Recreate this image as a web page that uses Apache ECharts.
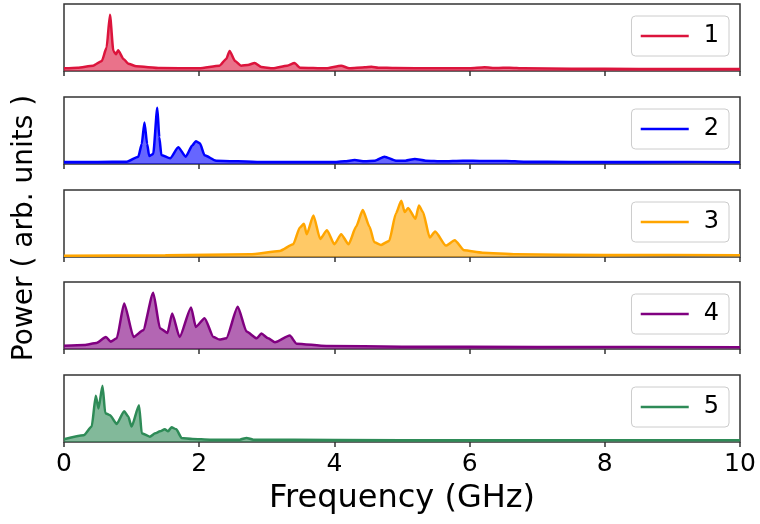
<!DOCTYPE html>
<html><head><meta charset="utf-8">
<script src="https://cdn.jsdelivr.net/npm/echarts@6/dist/echarts.min.js"></script>
<style>html,body{margin:0;padding:0;background:#fff}#c{width:760px;height:524px}</style>
</head><body><div id="c"></div>
<script>
// ---- data (frequency in GHz, power in arb. units; 100 = top of panel) ----
const seriesNames = ['1', '2', '3', '4', '5'];
const tickValues = [0, 2, 4, 6, 8, 10];
const tickLabels = ['0', '2', '4', '6', '8', '10'];

const freq1 = [0, 0.2, 0.43, 0.56, 0.63, 0.68, 0.73, 0.77, 0.80, 0.88, 0.95, 1.07, 1.42, 2.0, 2.3, 2.40, 2.45, 2.53, 2.62, 2.72, 2.82, 2.92, 3.09, 3.3, 3.41, 3.49, 3.88, 4.10, 4.22, 4.45, 4.55, 4.65, 4.9, 5.5, 6.0, 6.22, 6.4, 6.59, 6.8, 7.5, 8.5, 10];
const pow1  = [4, 5, 8, 15, 35, 84, 30, 25, 31, 18, 11, 7, 4.5, 4, 8, 18, 30, 15, 8, 9, 12, 6, 4, 8, 12, 5, 4, 8, 4, 5.5, 6.5, 5, 4.5, 4, 4, 5.5, 4.5, 5, 4, 3.5, 3, 3];

const freq2 = [0, 0.5, 0.93, 1.10, 1.15, 1.19, 1.23, 1.26, 1.32, 1.38, 1.41, 1.44, 1.57, 1.69, 1.80, 1.90, 1.95, 2.01, 2.08, 2.25, 2.9, 3.97, 4.15, 4.30, 4.45, 4.60, 4.74, 4.91, 5.05, 5.19, 5.35, 5.6, 5.9, 6.2, 6.54, 6.8, 7.5, 8.5, 10];
const pow2  = [3, 3, 3.5, 11, 30, 62, 30, 12, 15, 84, 40, 13.5, 8.5, 25, 11, 28, 34, 31, 13, 5, 3, 3, 4, 6, 4, 5, 11, 5, 5, 7.5, 5, 4, 5, 4.5, 4.5, 3.5, 3, 3, 2.5];

const freq3 = [0, 1.5, 2.75, 3.19, 3.39, 3.49, 3.55, 3.59, 3.69, 3.79, 3.89, 4.00, 4.10, 4.21, 4.32, 4.42, 4.52, 4.59, 4.69, 4.81, 4.91, 4.99, 5.04, 5.09, 5.20, 5.25, 5.31, 5.41, 5.49, 5.65, 5.78, 5.92, 6.19, 6.69, 8, 10];
const pow3  = [2, 2.5, 4, 9, 19, 44, 49.5, 34, 62, 27, 40, 19, 34, 19, 45, 70, 45, 22, 18, 24, 65, 84, 67, 73, 57, 77, 67, 29, 38, 17, 25, 10, 6.5, 4, 3, 2.5];

const freq4 = [0, 0.3, 0.48, 0.62, 0.69, 0.78, 0.89, 1.03, 1.17, 1.32, 1.42, 1.53, 1.60, 1.71, 1.88, 1.95, 2.08, 2.21, 2.30, 2.40, 2.57, 2.70, 2.85, 2.92, 3.02, 3.12, 3.34, 3.44, 3.88, 5, 7, 10];
const pow4  = [5, 6, 9, 18, 11, 16, 68, 18, 28, 84, 31, 24, 53, 18, 62, 33, 46, 18, 14, 16, 63, 26, 16, 23, 16, 10, 20, 8, 4.5, 3.5, 3, 2.5];

const freq5 = [0, 0.29, 0.41, 0.47, 0.51, 0.57, 0.61, 0.68, 0.78, 0.89, 0.95, 1.00, 1.11, 1.15, 1.27, 1.35, 1.42, 1.49, 1.54, 1.59, 1.66, 1.74, 1.9, 2.16, 2.6, 2.70, 2.8, 4, 6, 10];
const pow5  = [4, 10, 23, 69, 50, 84, 43, 40, 27, 46, 38, 23, 55, 13, 8, 13, 16, 19, 16, 22, 19, 6, 4.5, 3.5, 3.5, 6, 3.5, 3, 2.5, 2.5];

const freqs = [freq1, freq2, freq3, freq4, freq5];
const pows = [pow1, pow2, pow3, pow4, pow5];

// ---- styling / layout ----
const colors = ['#dc143c', '#0000ff', '#ffa500', '#800080', '#2e8b57'];
const FONT = 'DejaVu Sans';
const gridTops = [4, 97, 190, 282, 375];
const gridH = 67;

const grids = [], xAxes = [], yAxes = [], series = [], legends = [];
for (let i = 0; i < 5; i++) {
  grids.push({ left: 64, right: 20, top: gridTops[i], height: gridH, show: true,
               borderColor: '#333', borderWidth: 1.5, backgroundColor: 'transparent' });
  const last = i === 4;
  xAxes.push({ type: 'value', gridIndex: i, min: 0, max: 10, interval: 2,
    axisLine: { show: false },
    axisTick: { show: true, inside: false, length: 5, lineStyle: { color: '#333', width: 1.5 } },
    splitLine: { show: false },
    axisLabel: { show: last, margin: 10, fontSize: 25, fontFamily: FONT, color: '#000',
      formatter: v => tickLabels[tickValues.indexOf(v)] } });
  yAxes.push({ type: 'value', gridIndex: i, min: 0, max: 100,
    axisLine: { show: false }, axisTick: { show: false },
    axisLabel: { show: false }, splitLine: { show: false } });
  series.push({ name: seriesNames[i], type: 'line', xAxisIndex: i, yAxisIndex: i,
    data: freqs[i].map((f, j) => [f, pows[i][j]]),
    symbol: 'none', smooth: 0.2, smoothMonotone: 'x',
    lineStyle: { color: colors[i], width: 2.5 },
    itemStyle: { color: colors[i] },
    areaStyle: { color: colors[i], opacity: 0.6 } });
  legends.push({ data: [seriesNames[i]], top: gridTops[i] + 12, right: 31,
    itemWidth: 48, itemHeight: 14, itemGap: 0,
    itemStyle: { opacity: 0 }, lineStyle: { width: 2.5 },
    padding: [8, 10, 8, 8], borderColor: '#cccccc', borderWidth: 1, borderRadius: 4,
    backgroundColor: 'rgba(255,255,255,0.8)', selectedMode: false,
    textStyle: { fontSize: 24, fontFamily: FONT, color: '#000', padding: [0, 0, 0, 10] } });
}

const chart = echarts.init(document.getElementById('c'), null, { renderer: 'canvas' });
chart.setOption({
  animation: false,
  backgroundColor: '#fff',
  grid: grids, xAxis: xAxes, yAxis: yAxes, series: series, legend: legends,
  graphic: [
    { type: 'text', x: 402, y: 499,
      style: { text: 'Frequency (GHz)', fontSize: 32, fontFamily: FONT, fill: '#000',
               align: 'center', verticalAlign: 'middle' } },
    { type: 'text', x: 25, y: 228, rotation: Math.PI / 2,
      style: { text: 'Power ( arb. units )', fontSize: 28, fontFamily: FONT, fill: '#000',
               align: 'center', verticalAlign: 'middle' } }
  ]
});
</script>
</body></html>
